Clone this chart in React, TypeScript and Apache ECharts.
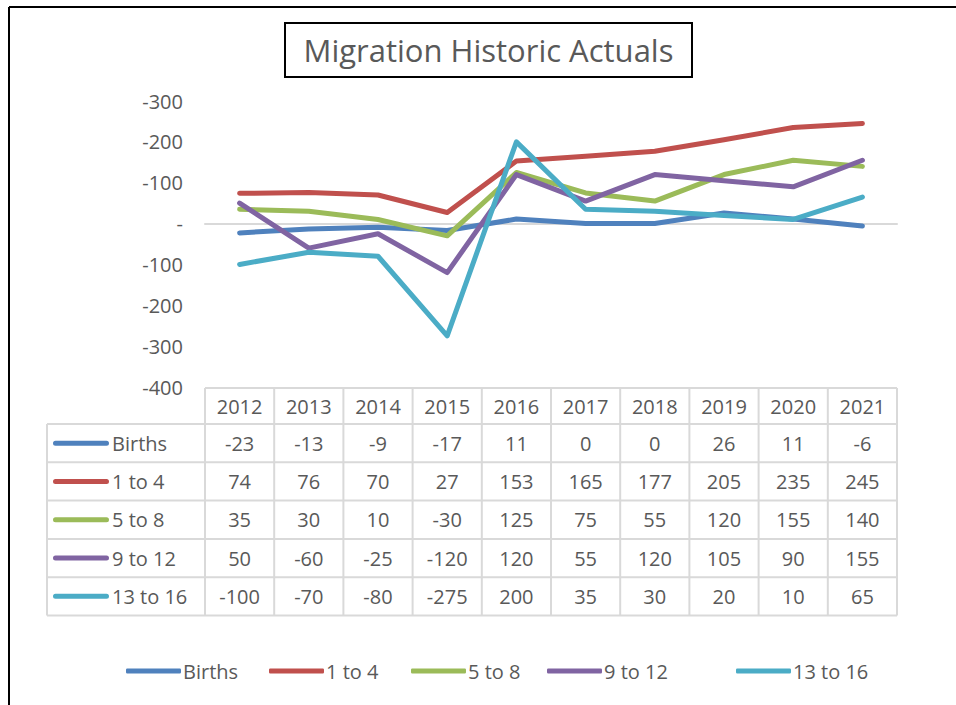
import React, { useEffect, useRef } from "react";
import * as echarts from "echarts";

const years = ["2012", "2013", "2014", "2015", "2016", "2017", "2018", "2019", "2020", "2021"];
const seriesNames = ["Births", "1 to 4", "5 to 8", "9 to 12", "13 to 16"];
const births = [-23, -13, -9, -17, 11, 0, 0, 26, 11, -6];
const age1to4 = [74, 76, 70, 27, 153, 165, 177, 205, 235, 245];
const age5to8 = [35, 30, 10, -30, 125, 75, 55, 120, 155, 140];
const age9to12 = [50, -60, -25, -120, 120, 55, 120, 105, 90, 155];
const age13to16 = [-100, -70, -80, -275, 200, 35, 30, 20, 10, 65];
const colors = ["#4F81BD", "#C0504D", "#9BBB59", "#8064A2", "#4BACC6"];
const title = "Migration Historic Actuals";

const FONT = "'Open Sans', 'Liberation Sans', sans-serif";
const TEXT = "#595959";
const LINE = "#D9D9D9";
const legendLefts = [121, 264, 406, 542, 731];

export default function App() {
  const ref = useRef<HTMLDivElement>(null);
  useEffect(() => {
    if (!ref.current) return;
    const chart = echarts.init(ref.current, undefined, { renderer: "svg" });
    const allData = [births, age1to4, age5to8, age9to12, age13to16];

    const gridLeft = 205;
    const gridRight = 897;
    const gridTop = 101;
    const gridBottom = 387;
    const colW = (gridRight - gridLeft) / years.length;
    const headTop = 388;
    const headBottom = 424;
    const rowH = 38.3;
    const tableLeft = 47;
    const tableBottom = headBottom + rowH * seriesNames.length;

    const graphics: any[] = [];
    graphics.push({ type: "line", shape: { x1: 9, y1: 7, x2: 9, y2: 705 }, style: { stroke: "#000", lineWidth: 2 } });
    graphics.push({ type: "line", shape: { x1: 9, y1: 7, x2: 956, y2: 7 }, style: { stroke: "#000", lineWidth: 2 } });
    graphics.push({ type: "rect", shape: { x: 285, y: 23, width: 407, height: 54 }, style: { fill: "#fff", stroke: "#000", lineWidth: 2 } });
    graphics.push({
      type: "text",
      x: 488.5,
      y: 50,
      style: { text: title, fill: TEXT, font: `31px ${FONT}`, align: "center", verticalAlign: "middle" },
    });
    graphics.push({ type: "line", shape: { x1: gridLeft, y1: headTop, x2: gridRight, y2: headTop }, style: { stroke: LINE, lineWidth: 2 } });
    for (let k = 0; k <= seriesNames.length; k++) {
      const y = headBottom + k * rowH;
      graphics.push({ type: "line", shape: { x1: tableLeft, y1: y, x2: gridRight, y2: y }, style: { stroke: LINE, lineWidth: 2 } });
    }
    graphics.push({ type: "line", shape: { x1: tableLeft, y1: headBottom, x2: tableLeft, y2: tableBottom }, style: { stroke: LINE, lineWidth: 2 } });
    for (let i = 0; i <= years.length; i++) {
      const x = gridLeft + i * colW;
      graphics.push({ type: "line", shape: { x1: x, y1: headTop, x2: x, y2: tableBottom }, style: { stroke: LINE, lineWidth: 2 } });
    }
    years.forEach((yr, i) => {
      graphics.push({
        type: "text",
        x: gridLeft + (i + 0.5) * colW,
        y: (headTop + headBottom) / 2,
        style: { text: yr, fill: TEXT, font: `20px ${FONT}`, align: "center", verticalAlign: "middle" },
      });
    });
    seriesNames.forEach((name, r) => {
      const cy = headBottom + (r + 0.5) * rowH;
      graphics.push({
        type: "rect",
        shape: { x: 53, y: cy - 2.5, width: 56, height: 5, r: 2.5 },
        style: { fill: colors[r] },
      });
      graphics.push({
        type: "text",
        x: 112,
        y: cy,
        style: { text: name, fill: TEXT, font: `20px ${FONT}`, align: "left", verticalAlign: "middle" },
      });
      allData[r].forEach((v, i) => {
        graphics.push({
          type: "text",
          x: gridLeft + (i + 0.5) * colW,
          y: cy,
          style: { text: String(v), fill: TEXT, font: `20px ${FONT}`, align: "center", verticalAlign: "middle" },
        });
      });
    });

    chart.setOption({
      animation: false,
      backgroundColor: "#fff",
      color: colors,
      grid: { left: gridLeft, right: 956 - gridRight, top: gridTop, bottom: 705 - gridBottom, containLabel: false },
      legend: seriesNames.map((name, i) => ({
        left: legendLefts[i],
        top: 656,
        itemWidth: 55,
        itemHeight: 5,
        icon: "roundRect",
        textStyle: { color: TEXT, fontSize: 20, fontFamily: FONT, padding: [0, 0, 0, -3] },
        data: [name],
      })),
      xAxis: {
        type: "category",
        data: years,
        boundaryGap: true,
        axisLabel: { show: false },
        axisTick: { show: false },
        axisLine: { show: true, onZero: true, lineStyle: { color: LINE, width: 2 } },
        splitLine: { show: false },
      },
      yAxis: {
        type: "value",
        min: -400,
        max: 300,
        interval: 100,
        axisLine: { show: false },
        axisTick: { show: false },
        splitLine: { show: false },
        axisLabel: {
          color: TEXT,
          fontSize: 20,
          fontFamily: FONT,
          margin: 22,
          formatter: (v: number) => (v === 0 ? "-" : "-" + Math.abs(v)),
        },
      },
      series: seriesNames.map((name, i) => ({
        name,
        type: "line",
        data: allData[i],
        symbol: "none",
        lineStyle: { width: 5, color: colors[i], cap: "round", join: "round" },
        itemStyle: { color: colors[i] },
      })),
      graphic: graphics,
    });
    return () => chart.dispose();
  }, []);
  return <div ref={ref} style={{ position: "fixed", left: 0, top: 0, width: 956, height: 705, background: "#fff" }} />;
}
